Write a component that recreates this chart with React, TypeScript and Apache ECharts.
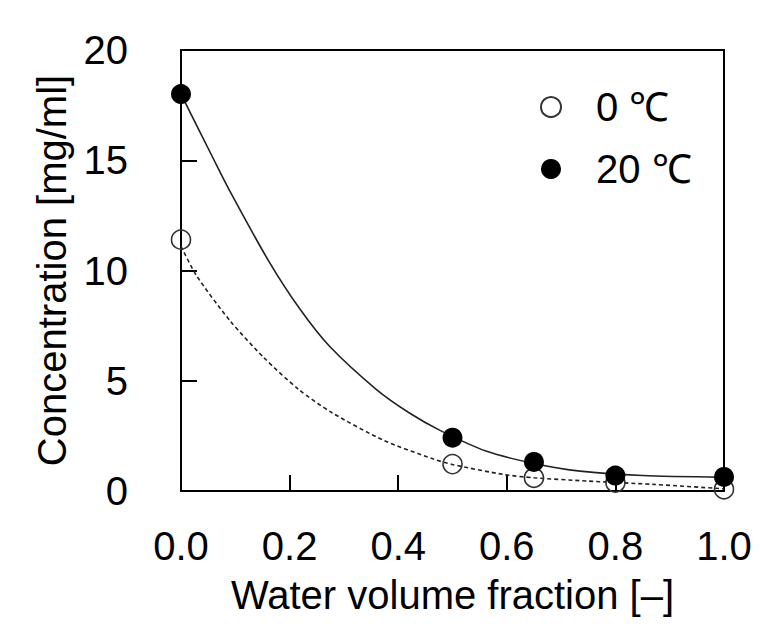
import React, { useEffect, useRef } from "react";
import * as echarts from "echarts";

// Measured points
const open0C: [number, number][] = [
  [0, 11.4], [0.5, 1.22], [0.65, 0.6], [0.8, 0.38], [1.0, 0.08],
];
const filled20C: [number, number][] = [
  [0, 18.0], [0.5, 2.42], [0.65, 1.32], [0.8, 0.7], [1.0, 0.64],
];
// Fitted curves
const fit20C: [number, number][] = [
  [0, 18.0], [0.061, 15.0], [0.09, 13.6], [0.161, 10.45], [0.219, 8.25], [0.274, 6.55],
  [0.36, 4.6], [0.42, 3.55], [0.477, 2.75], [0.563, 1.8], [0.65, 1.25],
  [0.735, 0.9], [0.85, 0.7], [1.0, 0.62],
];
const fit0C: [number, number][] = [
  [0, 11.1], [0.029, 9.75], [0.09, 7.73], [0.152, 6.06], [0.216, 4.62], [0.278, 3.55],
  [0.373, 2.3], [0.465, 1.45], [0.5, 1.2], [0.594, 0.75], [0.65, 0.6],
  [0.749, 0.45], [0.87, 0.3], [1.0, 0.1],
];
const seriesNames = ["0 ℃", "20 ℃"];
const xTitle = "Water volume fraction [–]";
const yTitle = "Concentration [mg/ml]";

const FONT = "'Liberation Sans', Arial, sans-serif";

export default function App() {
  const ref = useRef<HTMLDivElement>(null);
  useEffect(() => {
    if (!ref.current) return;
    const chart = echarts.init(ref.current, undefined, { renderer: "svg" });
    chart.setOption({
      animation: false,
      backgroundColor: "#fff",
      textStyle: { fontFamily: FONT, color: "#000" },
      grid: {
        left: 181, top: 50, right: 42, bottom: 133,
        show: true, borderColor: "#000", borderWidth: 2, backgroundColor: "transparent",
      },
      legend: {
        orient: "vertical",
        left: 535,
        top: 82,
        itemWidth: 80,
        itemHeight: 20,
        itemGap: 22,
        data: seriesNames,
        textStyle: { fontSize: 40, fontFamily: FONT, color: "#000", lineHeight: 40 },
      },
      xAxis: {
        type: "value",
        min: 0, max: 1, interval: 0.2,
        name: xTitle,
        nameLocation: "middle",
        nameGap: 84,
        nameTextStyle: { fontSize: 40, fontFamily: FONT, color: "#000" },
        axisLine: { lineStyle: { color: "#000", width: 2 } },
        axisTick: { inside: true, length: 16, lineStyle: { color: "#000", width: 2 } },
        axisLabel: {
          fontSize: 40, fontFamily: FONT, color: "#000", margin: 35,
          formatter: (v: number) => v.toFixed(1),
        },
        splitLine: { show: false },
      },
      yAxis: {
        type: "value",
        min: 0, max: 20, interval: 5,
        name: yTitle,
        nameLocation: "middle",
        nameGap: 109,
        nameTextStyle: { fontSize: 40, fontFamily: FONT, color: "#000" },
        axisLine: { lineStyle: { color: "#000", width: 2 } },
        axisTick: { inside: true, length: 16, lineStyle: { color: "#000", width: 2 } },
        axisLabel: { fontSize: 40, fontFamily: FONT, color: "#000", margin: 53 },
        splitLine: { show: false },
      },
      series: [
        {
          type: "line",
          name: "fit0",
          data: fit0C,
          smooth: 0.25,
          showSymbol: false,
          symbol: "none",
          lineStyle: { color: "#222", width: 1.6, type: [4, 3] },
          z: 2,
        },
        {
          type: "line",
          name: "fit20",
          data: fit20C,
          smooth: 0.25,
          showSymbol: false,
          symbol: "none",
          lineStyle: { color: "#222", width: 1.6 },
          z: 2,
        },
        {
          type: "scatter",
          name: seriesNames[0],
          data: open0C,
          symbol: "circle",
          symbolSize: 19,
          itemStyle: { color: "rgba(255,255,255,0)", borderColor: "#333", borderWidth: 1.6, opacity: 1 },
          z: 3,
        },
        {
          type: "scatter",
          name: seriesNames[1],
          data: filled20C,
          symbol: "circle",
          symbolSize: 20,
          itemStyle: { color: "#000", borderColor: "#000", borderWidth: 0, opacity: 1 },
          z: 4,
        },
      ],
    });
    return () => chart.dispose();
  }, []);
  return (
    <div
      ref={ref}
      style={{ position: "fixed", left: 0, top: 0, width: 766, height: 624 }}
    />
  );
}
